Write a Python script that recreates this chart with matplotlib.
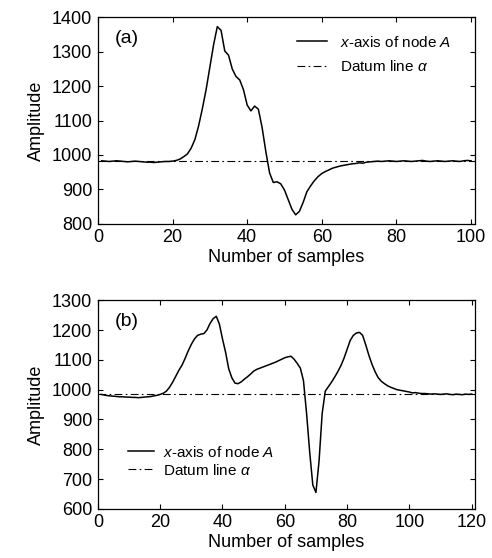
import numpy as np
import matplotlib
matplotlib.use("Agg")
import matplotlib.pyplot as plt


# ============================================================
# Data
# ============================================================

samples_a = np.arange(1, 101)
node_a_x_axis_a = [
    983, 982, 981, 982, 983, 982, 981, 980, 981, 982,
    981, 980, 979, 979, 978, 979, 980, 981, 981, 982,
    984, 988, 995, 1003, 1020, 1045, 1085, 1135, 1190, 1255,
    1320, 1373, 1362, 1302, 1290, 1250, 1228, 1218, 1190, 1145,
    1128, 1142, 1133, 1080, 1010, 948, 920, 922, 916, 898,
    870, 842, 826, 836, 862, 893, 910, 925, 937, 946,
    952, 957, 962, 965, 968, 970, 972, 974, 975, 977,
    976, 979, 980, 981, 982, 981, 982, 983, 982, 981,
    982, 983, 982, 981, 982, 983, 984, 982, 981, 982,
    983, 982, 981, 982, 983, 982, 981, 983, 984, 983,
]
datum_a = 983

samples_b = np.arange(1, 121)
node_a_x_axis_b = [
    984, 982, 980, 979, 978, 977, 976, 976, 975, 975,
    974, 974, 973, 974, 975, 976, 977, 979, 981, 984,
    988, 995, 1008, 1025, 1045, 1065, 1082, 1105, 1130, 1152,
    1170, 1182, 1186, 1188, 1200, 1222, 1238, 1246, 1220, 1170,
    1125, 1070, 1040, 1022, 1020, 1026, 1035, 1043, 1052, 1062,
    1068, 1072, 1076, 1080, 1084, 1088, 1092, 1097, 1102, 1107,
    1110, 1112, 1102, 1088, 1072, 1030, 920, 790, 680, 655,
    760, 920, 995, 1010, 1025, 1042, 1060, 1080, 1105, 1135,
    1165, 1182, 1190, 1192, 1182, 1150, 1115, 1085, 1060, 1040,
    1028, 1020, 1013, 1008, 1004, 1000, 998, 996, 994, 992,
    989, 990, 988, 987, 987, 986, 985, 986, 985, 984,
    985, 986, 984, 983, 985, 984, 983, 985, 984, 985,
]
datum_b = 986

labels = ["$x$-axis of node $A$", r"Datum line $\alpha$"]


# ============================================================
# Style
# ============================================================

plt.rcParams.update({
    "font.family": ["Liberation Sans", "DejaVu Sans"],
    "mathtext.fontset": "custom",
    "mathtext.rm": "Liberation Sans",
    "mathtext.it": "Liberation Sans:italic",
    "font.size": 12,
    "axes.linewidth": 0.9,
    "xtick.direction": "in",
    "ytick.direction": "in",
    "xtick.top": True,
    "ytick.right": True,
    "xtick.major.size": 3.5,
    "ytick.major.size": 3.5,
    "xtick.labelsize": 13,
    "ytick.labelsize": 13,
})

datum_style = dict(color="black", linewidth=0.8, linestyle=(0, (7, 3, 1.5, 3)))


def style_axis(ax, xlim, xticks, ylim, yticks):
    ax.set_xlim(*xlim)
    ax.set_xticks(xticks)
    ax.set_ylim(*ylim)
    ax.set_yticks(yticks)
    ax.set_xlabel("Number of samples", fontsize=13, labelpad=2)
    ax.set_ylabel("Amplitude", fontsize=13, labelpad=5)
    ax.tick_params(axis="both", pad=4)


fig = plt.figure(figsize=(4.92, 5.58), dpi=100)

# (a)
ax1 = fig.add_axes([0.199, 0.599, 0.766, 0.370])
ax1.plot(samples_a, node_a_x_axis_a, color="black", linewidth=1.1, label=labels[0])
ax1.axhline(datum_a, label=labels[1], **datum_style)
style_axis(ax1, (0, 101), np.arange(0, 101, 20), (800, 1400), np.arange(800, 1401, 100))
ax1.text(0.045, 0.94, "(a)", transform=ax1.transAxes, fontsize=14, va="top")
ax1.legend(loc="upper left", bbox_to_anchor=(0.528, 0.915), frameon=False, fontsize=11,
           borderaxespad=0, borderpad=0, handlelength=2.0, handletextpad=0.8, labelspacing=0.6)

# (b)
ax2 = fig.add_axes([0.199, 0.088, 0.766, 0.374])
ax2.plot(samples_b, node_a_x_axis_b, color="black", linewidth=1.1, label=labels[0])
ax2.axhline(datum_b, label=labels[1], **datum_style)
style_axis(ax2, (0, 121), np.arange(0, 121, 20), (600, 1300), np.arange(600, 1301, 100))
ax2.text(0.045, 0.94, "(b)", transform=ax2.transAxes, fontsize=14, va="top")
ax2.legend(loc="lower left", bbox_to_anchor=(0.08, 0.15), frameon=False, fontsize=11,
           borderaxespad=0, borderpad=0, handlelength=1.7, handletextpad=0.6, labelspacing=0.2)

fig.savefig("out.png", dpi=100)
